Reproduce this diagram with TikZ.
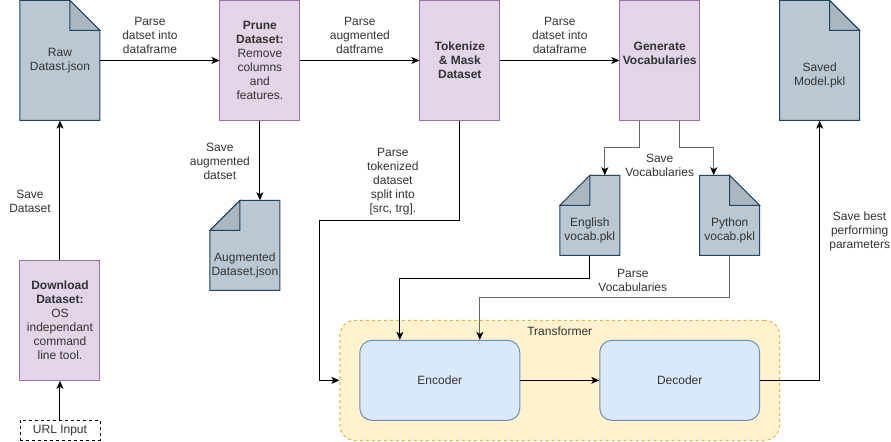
\documentclass[tikz,border=0pt]{standalone}
\usepackage{fontspec}
\setmainfont{Liberation Sans}
\usetikzlibrary{arrows.meta}

\definecolor{procfill}{HTML}{E1D5E7}
\definecolor{procline}{HTML}{9673A6}
\definecolor{notefill}{HTML}{BAC8D3}
\definecolor{notedark}{HTML}{AAB6C0}
\definecolor{noteline}{HTML}{23445D}
\definecolor{blockfill}{HTML}{DAE8FC}
\definecolor{blockline}{HTML}{6C8EBF}
\definecolor{groupfill}{HTML}{FFF2CC}
\definecolor{groupline}{HTML}{D6B656}

% note with the fold at the top right: name, x, y, w, h, text shift, text
\newcommand{\NoteR}[7]{%
  \filldraw[note] (#2,#3) -- ({#2+#4-30},#3) -- ({#2+#4},{#3+30}) -- ({#2+#4},{#3+#5}) -- (#2,{#3+#5}) -- cycle;
  \filldraw[notefold] ({#2+#4-30},#3) -- ({#2+#4-30},{#3+30}) -- ({#2+#4},{#3+30}) -- cycle;
  \node[area, minimum width=#4, minimum height=#5] (#1) at ({#2+#4/2},{#3+#5/2}) {};
  \node[txt] (#1-t) at ({#2+#4/2},{#3+#5/2+#6}) {#7};
}
% note with the fold at the top left
\newcommand{\NoteL}[7]{%
  \filldraw[note] ({#2+30},#3) -- ({#2+#4},#3) -- ({#2+#4},{#3+#5}) -- (#2,{#3+#5}) -- (#2,{#3+30}) -- cycle;
  \filldraw[notefold] ({#2+30},#3) -- ({#2+30},{#3+30}) -- (#2,{#3+30}) -- cycle;
  \node[area, minimum width=#4, minimum height=#5] (#1) at ({#2+#4/2},{#3+#5/2}) {};
  \node[txt] (#1-t) at ({#2+#4/2},{#3+#5/2+#6}) {#7};
}

\begin{document}
\begin{tikzpicture}[x=1pt, y=-1pt,
    every node/.style={font=\fontsize{12}{14}\selectfont, text=black!80},
    txt/.style={align=center, inner sep=0pt},
    lbl/.style={align=center, inner sep=1pt},
    area/.style={rectangle, inner sep=0pt},
    note/.style={fill=notefill, draw=noteline, line width=1pt},
    notefold/.style={fill=notedark, draw=noteline, line width=1pt},
    proc/.style={rectangle, fill=procfill, draw=procline, line width=1pt, minimum width=80, minimum height=120, align=center, inner sep=0pt},
    block/.style={rectangle, rounded corners=12pt, fill=blockfill, draw=blockline, line width=1pt, minimum width=160, minimum height=80},
    group/.style={rectangle, rounded corners=15pt, fill=groupfill, draw=groupline, dashed, line width=1pt, minimum width=440, minimum height=120},
    arr/.style={-{Stealth[length=8pt, width=7pt, inset=2pt, color=black]}, line width=1pt, black},
    arrg/.style={arr, black!60}]
	\fill[white] (0,0) rectangle (891,441);

	% files
	\NoteR{raw}{20}{0}{80}{120}{0}{Raw\\Datast.json}
	\NoteR{saved}{780}{0}{80}{120}{15}{Saved\\Model.pkl}
	\NoteL{aug}{210}{200}{70}{90}{20}{Augmented\\Dataset.json}
	\NoteL{eng}{560}{175}{60}{80}{15}{English\\vocab.pkl}
	\NoteR{py}{700}{175}{60}{80}{15}{Python\\vocab.pkl}

	% steps
	\node[proc] (prune) at (260,60) {\textbf{Prune}\\\textbf{Dataset:}\\Remove\\columns\\and\\features.};
	\node[proc, font=\fontsize{12}{14}\selectfont\bfseries] (tok) at (460,60) {Tokenize\\\& Mask\\Dataset};
	\node[proc, font=\fontsize{12}{14}\selectfont\bfseries] (gen) at (660,60) {Generate\\Vocabularies\\\mbox{}};
	\node[proc] (dl) at (60,320) {\textbf{Download}\\\textbf{Dataset:}\\OS\\independant\\command\\line tool.};
	\node[rectangle, draw, dashed, line width=0.8pt, minimum width=80, minimum height=20, inner sep=0pt] (url) at (60,430) {URL Input};

	% transformer
	\node[group] (trans) at (560,380) {};
	\node[txt] (trans-t) at (560,331) {Transformer};
	\node[block] (enc) at (440,380) {Encoder};
	\node[block] (dec) at (680,380) {Decoder};

	% connectors
	\draw[arr] (url) -- (dl);
	\draw[arr] (dl) -- (raw);
	\draw[arr] (raw) -- (prune);
	\draw[arr] (prune) -- (tok);
	\draw[arr] (tok) -- (gen);
	\draw[arr] (prune) -- (prune |- aug.north);
	\draw[arr] (tok.south) -- ++(0,100) -| ([xshift=-20pt]trans.west) -- (trans.west);
	\draw[arrg] ([xshift=-20pt]gen.south) -- ++(0,27) -| ([xshift=15pt]eng.north);
	\draw[arrg] ([xshift=20pt]gen.south) -- ++(0,27) -| ([xshift=-16pt]py.north);
	\draw[arr] (eng.south) -- ++(0,23) -| ([xshift=-40pt]enc.north);
	\draw[arrg] (py.south) -- ++(0,42) -| ([xshift=40pt]enc.north);
	\draw[arr] (enc) -- (dec);
	\draw[arr] (dec.east) -| (saved.south);

	% labels
	\node[lbl] (l-raw) at (150,35) {Parse\\datset into\\dataframe};
	\node[lbl] (l-prune) at (360,35) {Parse\\augmented\\datframe};
	\node[lbl] (l-tok) at (560,35) {Parse\\datset into\\dataframe};
	\node[lbl] (l-aug) at (220,161) {Save\\augmented\\datset};
	\node[lbl] (l-dl) at (30,201) {Save\\Dataset};
	\node[lbl] (l-split) at (393,181) {Parse\\tokenized\\dataset\\split into\\{[src, trg].}};
	\node[lbl] (l-vocab) at (660,165) {Save\\Vocabularies};
	\node[lbl] (l-parsev) at (633,280) {Parse\\Vocabularies};
	\node[lbl] (l-best) at (860,231) {Save best\\performing\\parameters};
\end{tikzpicture}
\end{document}
